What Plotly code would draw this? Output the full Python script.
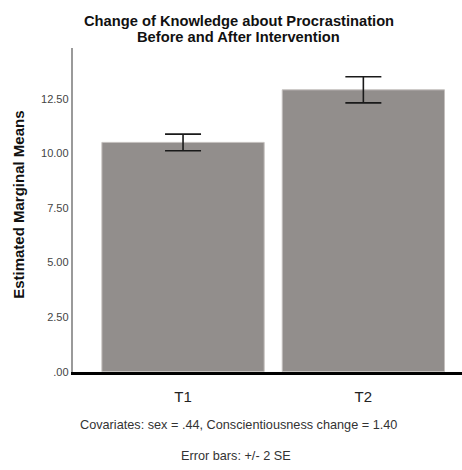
import plotly.graph_objects as go

# Estimated marginal means of knowledge score at each time point
times = ["T1", "T2"]
means = [10.51, 12.92]
err_2se = [0.38, 0.60]

y_ticks = [0, 2.5, 5, 7.5, 10, 12.5]
y_tick_labels = [".00", "2.50", "5.00", "7.50", "10.00", "12.50"]

title_lines = ["Change of Knowledge about Procrastination",
               "Before and After Intervention"]
y_title = "Estimated Marginal Means"
notes = ["Covariates: sex = .44, Conscientiousness change = 1.40",
         "Error bars: +/- 2 SE"]

W, H = 462, 470
FONT = "Liberation Sans, Arial, sans-serif"

# plot area in pixels
left, right, top, bottom = 72.5, 462, 49, 376.5

fig = go.Figure()
fig.add_trace(go.Bar(
    x=list(range(len(times))),
    y=means,
    width=0.9,
    marker=dict(color="#928e8c", line=dict(color="#c4c0be", width=1)),
    error_y=dict(type="data", array=err_2se, visible=True,
                 color="#1a1a1a", thickness=1.6, width=18),
    hoverinfo="skip",
))

fig.update_layout(
    width=W, height=H,
    margin=dict(l=0, r=0, t=0, b=0),
    paper_bgcolor="white", plot_bgcolor="white",
    showlegend=False,
    font=dict(family=FONT, color="#222"),
    xaxis=dict(
        domain=[left / W, right / W],
        range=[-0.613, 1.547],
        tickvals=list(range(len(times))), ticktext=times,
        tickfont=dict(size=15, color="#222"),
        showgrid=False, zeroline=False, ticks="",
        showline=True, linecolor="black", linewidth=3,
        ticklabelstandoff=9,
    ),
    yaxis=dict(
        domain=[1 - bottom / H, 1 - top / H],
        range=[0, 14.82],
        tickvals=y_ticks, ticktext=y_tick_labels,
        tickfont=dict(size=11, color="#444"),
        showgrid=False, zeroline=False, ticks="",
        showline=True, linecolor="#9a9a9a", linewidth=1.5,
    ),
)

def px_ann(text, x, y, size, bold=False, angle=0, color="#222"):
    fig.add_annotation(
        text=f"<b>{text}</b>" if bold else text,
        x=x / W, y=1 - y / H, xref="paper", yref="paper",
        xanchor="center", yanchor="middle", showarrow=False,
        textangle=angle, font=dict(family=FONT, size=size, color=color),
    )

# two-line title
px_ann(title_lines[0], 239, 21, 14.7, bold=True, color="#111")
px_ann(title_lines[1], 239, 37, 14.7, bold=True, color="#111")
px_ann(y_title, 19, 207.5, 15, bold=True, angle=-90, color="#111")
px_ann(notes[0], 238.5, 430, 12.7, color="#333")
px_ann(notes[1], 236, 461.5, 12.7, color="#333")

fig.write_html("out.html")
